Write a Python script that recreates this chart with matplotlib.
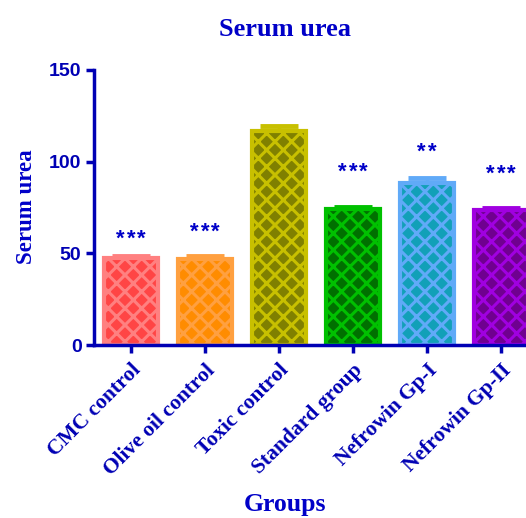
import matplotlib
matplotlib.use("Agg")
import matplotlib.pyplot as plt
import matplotlib.transforms as mtransforms
import numpy as np

groups = ["CMC control", "Olive oil control", "Toxic control",
          "Standard group", "Nefrowin Gp-I", "Nefrowin Gp-II"]
means = [47.5, 46.8, 116.5, 74.2, 88.6, 73.5]
sem = [0.8, 2.0, 3.0, 0.9, 2.3, 1.0]
stars = [3, 3, 0, 3, 2, 3]
star_y = [60, 63.5, 0, 96.5, 107.5, 95.5]

fills = ["#FF4545", "#FF8C00", "#808000", "#007000", "#12A0B8", "#700090"]
edges = ["#FF8080", "#FFA040", "#C8C000", "#00C000", "#60AAF8", "#A000E0"]

navy = "#0000B4"
text_blue = "#0000C8"
serif = ["Liberation Serif", "DejaVu Serif"]
sans = ["Liberation Sans", "DejaVu Sans"]

plt.rcParams["hatch.linewidth"] = 2.2

fig = plt.figure(figsize=(5.26, 5.18), dpi=100)
ax = fig.add_axes([94 / 526, 173 / 518, 444 / 526, 275 / 518])

x = np.arange(len(groups))
for i in x:
    ax.errorbar(x[i], means[i], yerr=[[0], [sem[i]]], fmt="none",
                ecolor=edges[i], elinewidth=2.5, capsize=14, capthick=3.5,
                zorder=1)
    ax.bar(x[i], means[i], width=0.72, color=fills[i], edgecolor=edges[i],
           linewidth=3, hatch="xx", zorder=2)
    # significance asterisks, spaced apart
    n = stars[i]
    for k in range(n):
        dx = (k - (n - 1) / 2) * 10.5
        ax.annotate("*", xy=(x[i], star_y[i]), xytext=(dx, -4),
                    textcoords="offset pixels", ha="center", va="center",
                    fontsize=16, fontweight="bold", color=text_blue,
                    family=sans, zorder=3)

ax.set_xlim(-0.5, 5.5)
ax.set_ylim(0, 150)
ax.set_yticks([0, 50, 100, 150])
ax.set_xticks(x)
ax.set_xticklabels(groups, rotation=45, ha="right", va="top",
                   rotation_mode="anchor", fontsize=15.5, fontweight="bold",
                   family=serif, color=text_blue)
shift = mtransforms.ScaledTranslation(-5 / 100, -4 / 100, fig.dpi_scale_trans)
for lbl in ax.get_xticklabels():
    lbl.set_transform(lbl.get_transform() + shift)
for lbl in ax.get_yticklabels():
    lbl.set_fontsize(14)
    lbl.set_fontweight("bold")
    lbl.set_family(sans)
    lbl.set_color(text_blue)

for side in ["top", "right"]:
    ax.spines[side].set_visible(False)
for side in ["left", "bottom"]:
    ax.spines[side].set_color(navy)
    ax.spines[side].set_linewidth(2.5)
ax.tick_params(axis="both", colors=navy, width=2.5, length=6, pad=3)
ax.tick_params(axis="x", pad=5)
for s in ax.spines.values():
    s.set_clip_on(False)

fig.text(0.542, 1 - 30 / 518, "Serum urea", ha="center", va="center",
         fontsize=19, fontweight="bold", family=serif, color=text_blue)
fig.text(27 / 526, 1 - 207 / 518, "Serum urea", ha="center", va="center",
         rotation=90, fontsize=16.5, fontweight="bold", family=serif,
         color=text_blue)
fig.text(285 / 526, 1 - 505 / 518, "Groups", ha="center", va="center",
         fontsize=18.5, fontweight="bold", family=serif, color=text_blue)

fig.savefig("out.png", dpi=100)
